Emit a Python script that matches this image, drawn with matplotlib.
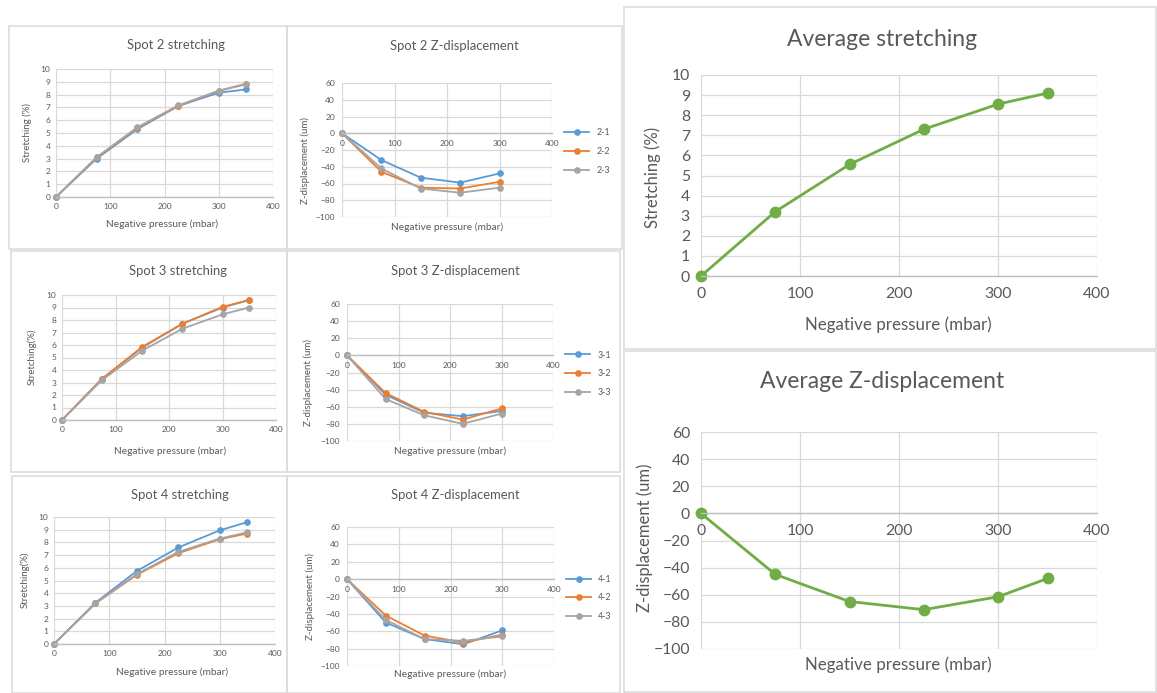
import matplotlib
matplotlib.use("Agg")
import matplotlib.pyplot as plt
from matplotlib.patches import Rectangle

# ---- data -------------------------------------------------------------
pressure = [0, 75, 150, 225, 300, 350]      # negative pressure (mbar)
pressure_z = [0, 75, 150, 225, 300]         # Z-displacement measured up to 300 mbar

spot2_stretch_1 = [0, 3.0, 5.3, 7.1, 8.15, 8.4]
spot2_stretch_2 = [0, 3.1, 5.4, 7.1, 8.3, 8.8]
spot2_stretch_3 = [0, 3.1, 5.45, 7.15, 8.3, 8.85]

spot2_z_1 = [0, -32, -53, -59, -48]
spot2_z_2 = [0, -46, -65, -66, -58]
spot2_z_3 = [0, -42, -66, -71, -65]

spot3_stretch_1 = [0, 3.3, 5.8, 7.7, 9.0, 9.6]
spot3_stretch_2 = [0, 3.3, 5.85, 7.7, 9.05, 9.6]
spot3_stretch_3 = [0, 3.2, 5.55, 7.3, 8.45, 9.0]

spot3_z_1 = [0, -46, -67, -71, -65]
spot3_z_2 = [0, -44, -66, -75, -62]
spot3_z_3 = [0, -51, -70, -80, -68]

spot4_stretch_1 = [0, 3.25, 5.75, 7.6, 8.95, 9.6]
spot4_stretch_2 = [0, 3.2, 5.45, 7.15, 8.25, 8.7]
spot4_stretch_3 = [0, 3.2, 5.5, 7.25, 8.3, 8.8]

spot4_z_1 = [0, -50, -69, -75, -59]
spot4_z_2 = [0, -42, -65, -73, -64]
spot4_z_3 = [0, -47, -69, -71, -66]

avg_stretch = [0, 3.2, 5.55, 7.3, 8.55, 9.1]
avg_z = [0, -45, -65, -71, -61.5, -48]

x_ticks = [0, 100, 200, 300, 400]
stretch_ticks = list(range(0, 11))
z_ticks = [-100, -80, -60, -40, -20, 0, 20, 40, 60]

# ---- style --------------------------------------------------------------
W, H = 1157, 693
BLUE, ORANGE, GRAY, GREEN = "#5B9BD5", "#ED7D31", "#A5A5A5", "#70AD47"
TEXT = "#595959"
GRID = "#D9D9D9"
BORDER = "#DDDDDD"
plt.rcParams["font.family"] = ["Lato", "DejaVu Sans"]

fig = plt.figure(figsize=(W / 100, H / 100), dpi=100)
fig.patch.set_facecolor("white")


def fx(x):
    return x / W


def fy(y):
    return 1 - y / H


def box(x0, y0, x1, y1):
    fig.patches.append(Rectangle((fx(x0), fy(y1)), fx(x1 - x0), (y1 - y0) / H,
                                 transform=fig.transFigure, fill=False,
                                 edgecolor=BORDER, linewidth=1.2, zorder=0))


def make_axes(x0, y0, x1, y1):
    return fig.add_axes([fx(x0), fy(y1), fx(x1 - x0), (y1 - y0) / H])


def style(ax, yticks, tick_fs, pad, zero_axis):
    ax.set_xlim(0, 400)
    ax.set_ylim(yticks[0], yticks[-1])
    ax.set_xticks(x_ticks)
    ax.set_yticks(yticks)
    ax.grid(True, color=GRID, linewidth=0.9)
    ax.set_axisbelow(True)
    for side in ("left", "right", "top"):
        ax.spines[side].set_visible(False)
    ax.spines["bottom"].set_color("#BFBFBF")
    ax.spines["bottom"].set_linewidth(1.0)
    if zero_axis:
        ax.spines["bottom"].set_position(("data", 0))
    ax.tick_params(length=0, labelsize=tick_fs, colors=TEXT, pad=pad)


def label(x, y, s, fs, rot=0):
    fig.text(fx(x), fy(y), s, fontsize=fs, color=TEXT, rotation=rot,
             ha="center", va="center")


series_colors = [BLUE, ORANGE, GRAY]

# ---- panel frames ---------------------------------------------------------
box(9, 26, 287, 249)
box(287, 26, 622, 249)
box(11, 251, 287, 472)
box(287, 251, 620, 472)
box(12, 476, 287, 693)
box(287, 476, 620, 693)
box(624, 7, 1156, 349)
box(624, 351, 1156, 692)

# ---- small stretching panels --------------------------------------------
small_stretch = [
    ((56, 69, 273, 197), [spot2_stretch_1, spot2_stretch_2, spot2_stretch_3],
     "Spot 2 stretching", (176, 45), (162, 224), (27, 133), "Stretching (%)"),
    ((62, 295, 276, 420), [spot3_stretch_1, spot3_stretch_2, spot3_stretch_3],
     "Spot 3 stretching", (178, 271), (170, 451), (32, 357), "Stretching(%)"),
    ((54, 517, 275, 644), [spot4_stretch_1, spot4_stretch_2, spot4_stretch_3],
     "Spot 4 stretching", (180, 495), (172, 672), (25, 580), "Stretching(%)"),
]
for rect, ys, title, tpos, xpos, ypos, ylab in small_stretch:
    ax = make_axes(*rect)
    style(ax, stretch_ticks, 6.0, 4, False)
    for yv, c in zip(ys, series_colors):
        ax.plot(pressure, yv, color=c, lw=1.3, marker="o", ms=3.8,
                clip_on=False)
    label(*tpos, title, 9.4)
    label(*xpos, "Negative pressure (mbar)", 7.3)
    label(*ypos, ylab, 7.0, rot=90)

# ---- small Z-displacement panels -------------------------------------------
small_z = [
    ((342, 83, 552, 217), [spot2_z_1, spot2_z_2, spot2_z_3], ["2-1", "2-2", "2-3"],
     "Spot 2 Z-displacement", (454, 46), (447, 227), (305, 160)),
    ((347, 304, 553, 441), [spot3_z_1, spot3_z_2, spot3_z_3], ["3-1", "3-2", "3-3"],
     "Spot 3 Z-displacement", (455, 271), (450, 451), (308, 383)),
    ((347, 527, 554, 666), [spot4_z_1, spot4_z_2, spot4_z_3], ["4-1", "4-2", "4-3"],
     "Spot 4 Z-displacement", (455, 495), (450, 674), (310, 597)),
]
for rect, ys, names, title, tpos, xpos, ypos in small_z:
    ax = make_axes(*rect)
    style(ax, z_ticks, 6.0, 5, True)
    for yv, c, n in zip(ys, series_colors, names):
        ax.plot(pressure_z, yv, color=c, lw=1.3, marker="o", ms=3.8,
                clip_on=False, label=n)
    ax.legend(loc="center left", bbox_to_anchor=(1.02, 0.49),
              frameon=False, fontsize=6.4, labelcolor=TEXT,
              handlelength=2.8, labelspacing=1.1, handletextpad=0.8)
    label(*tpos, title, 9.4)
    label(*xpos, "Negative pressure (mbar)", 7.3)
    label(*ypos, "Z-displacement (um)", 7.0, rot=90)

# ---- average panels ------------------------------------------------------
ax = make_axes(701, 75, 1097, 276)
style(ax, stretch_ticks, 11.3, 8, False)
ax.plot(pressure, avg_stretch, color=GREEN, lw=2.0, marker="o", ms=7.5,
        clip_on=False)
label(882, 39, "Average stretching", 16.5)
label(898, 325, "Negative pressure (mbar)", 12.2)
label(653, 177, "Stretching (%)", 12.0, rot=90)

ax = make_axes(701, 432, 1097, 649)
style(ax, z_ticks, 11.3, 8, True)
ax.plot(pressure, avg_z, color=GREEN, lw=2.0, marker="o", ms=7.5,
        clip_on=False)
label(882, 382, "Average Z-displacement", 16.5)
label(898, 665, "Negative pressure (mbar)", 12.2)
label(645, 538, "Z-displacement (um)", 12.0, rot=90)

fig.savefig("out.png", dpi=100, facecolor="white")
